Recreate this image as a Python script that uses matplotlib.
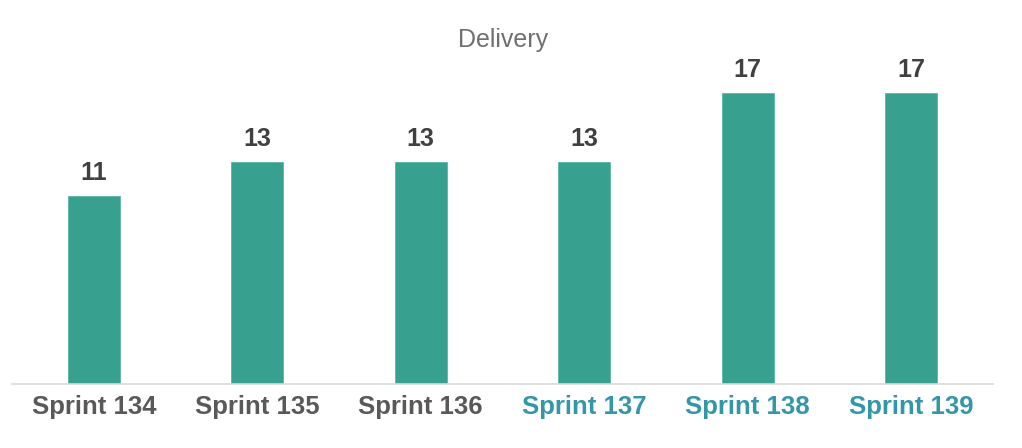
import matplotlib
matplotlib.use("Agg")
import matplotlib.pyplot as plt

categories = ["Sprint 134", "Sprint 135", "Sprint 136", "Sprint 137", "Sprint 138", "Sprint 139"]
values = [11, 13, 13, 13, 17, 17]
label_colors = ["#595959", "#595959", "#595959", "#3497A8", "#3497A8", "#3497A8"]

plt.rcParams['font.family'] = ['Liberation Sans', 'DejaVu Sans']

fig = plt.figure(figsize=(10.22, 4.48), dpi=100)
ax = fig.add_axes([12/1022, 64/448, 981/1022, 342/448])

x = range(len(categories))
bars = ax.bar(x, values, width=0.32, color="#38A08F", edgecolor="#5BB5A5", linewidth=0.6)
ax.set_xlim(-0.5, len(categories) - 0.5)
ax.set_ylim(0, 20)

for i, v in zip(x, values):
    ax.annotate(str(v), (i, v), xytext=(0, 8), textcoords="offset points",
                ha="center", va="bottom", fontsize=18, fontweight="bold", color="#404040")

ax.set_xticks(list(x))
ax.set_xticklabels(categories, fontsize=18.5, fontweight="bold")
for lbl, c in zip(ax.get_xticklabels(), label_colors):
    lbl.set_color(c)
ax.tick_params(axis="x", length=0, pad=8)
ax.set_yticks([])
for s in ["top", "right", "left"]:
    ax.spines[s].set_visible(False)
ax.spines["bottom"].set_color("#D9D9D9")
ax.spines["bottom"].set_linewidth(1.2)

fig.text(503/1022, 1 - 40/448, "Delivery", ha="center", va="center", fontsize=18, color="#707070")

fig.savefig("out.png", dpi=100)
